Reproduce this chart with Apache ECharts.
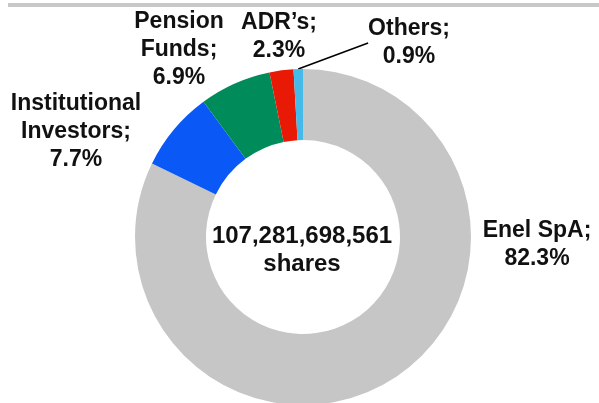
<!DOCTYPE html>
<html>
<head>
<meta charset="utf-8">
<script src="https://cdn.jsdelivr.net/npm/echarts@6/dist/echarts.min.js"></script>
<style>
html,body{margin:0;padding:0;background:#fff;}
#chart{width:599px;height:403px;}
</style>
</head>
<body>
<div id="chart"></div>
<script>
const categories = ['Enel SpA', 'Institutional\nInvestors', 'Pension\nFunds', 'ADR’s', 'Others'];
const values = [82.3, 7.7, 6.9, 2.3, 0.9];
const colors = ['#c6c6c6', '#0a58f5', '#008b5a', '#e81a05', '#45b9e8'];
const centerLines = ['107,281,698,561', 'shares'];

const labelPos = [[537, 245], [76, 132], [179, 50], [279, 37], [409, 43]];

const chart = echarts.init(document.getElementById('chart'));
const font = "'Liberation Sans', Arial, sans-serif";
chart.setOption({
  animation: false,
  title: {
    text: centerLines.join('\n'),
    left: 297, top: 217, textAlign: 'center',
    textStyle: {fontFamily: font, fontWeight: 'bold', fontSize: 24, lineHeight: 28, color: '#111'}
  },
  graphic: [{
    type: 'line', shape: {x1: 8, y1: 5, x2: 599, y2: 5},
    style: {stroke: '#c8c8c8', lineWidth: 4}
  }],
  series: [{
    type: 'pie',
    center: [303, 237],
    radius: [97, 168],
    startAngle: 90,
    clockwise: true,
    data: categories.map((c, i) => ({
      name: c, value: values[i],
      itemStyle: {color: colors[i]},
      labelLine: {show: i === 4, lineStyle: {color: '#000', width: 1.5}, length: 0, length2: 0}
    })),
    label: {
      show: true,
      formatter: p => p.name + ';\n' + p.value.toFixed(1) + '%',
      fontFamily: font, fontWeight: 'bold', fontSize: 23, lineHeight: 28, color: '#111',
      align: 'center'
    },
    labelLine: {show: false},
    labelLayout: p => ({
      x: labelPos[p.dataIndex][0], y: labelPos[p.dataIndex][1],
      align: 'center', verticalAlign: 'middle'
    })
  }]
});
</script>
</body>
</html>
